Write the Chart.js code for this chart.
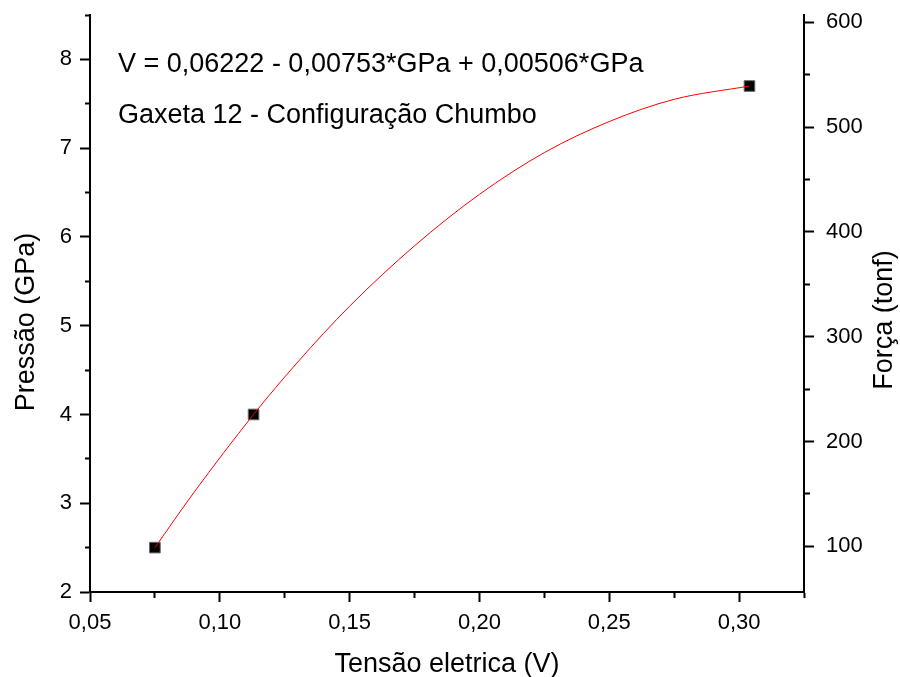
<!DOCTYPE html>
<html>
<head>
<meta charset="utf-8">
<script src="https://cdn.jsdelivr.net/npm/chart.js@4/dist/chart.umd.min.js"></script>
<style>
  html, body { margin: 0; padding: 0; background: #fff; }
  #chart { display: block; }
</style>
</head>
<body>
<canvas id="chart" width="900" height="677"></canvas>
<script>
// measured points
const tensao = [0.075, 0.113, 0.304];
const pressao = [2.5, 4.0, 7.7];

// polynomial fit curve
const fitTensao = [0.075, 0.09, 0.113, 0.13, 0.15, 0.175, 0.2, 0.225, 0.25, 0.275, 0.304];
const fitPressao = [2.5, 3.12, 4.0, 4.59, 5.22, 5.9, 6.48, 6.95, 7.3, 7.55, 7.7];

// right axis ticks (force), majors every 100
const forcaTicks = [100, 150, 200, 250, 300, 350, 400, 450, 500, 550, 600];

const textLines = [
  'V = 0,06222 - 0,00753*GPa + 0,00506*GPa',
  'Gaxeta 12 - Configuração Chumbo'
];
const xTitle = 'Tensão eletrica (V)';
const yTitle = 'Pressão (GPa)';
const y2Title = 'Força (tonf)';

const FONT = '"Liberation Sans", Arial, sans-serif';
Chart.defaults.font.family = FONT;
Chart.defaults.color = '#000';

function isMultiple(v, step) {
  const r = v / step;
  return Math.abs(r - Math.round(r)) < 1e-6;
}

// minor ticks are drawn shorter using a dash pattern on the tick line
function minorDash(step, fromOuter) {
  return ctx => {
    if (!ctx.tick || isMultiple(ctx.tick.value, step)) return [];
    return fromOuter ? [5, 5] : [5, 10];
  };
}
function minorOffset(step) {
  return ctx => (!ctx.tick || isMultiple(ctx.tick.value, step)) ? 0 : 5;
}

// keep the plot box fixed: no extra room for edge labels
function fixVertical(width) {
  return s => { s.width = width; s.paddingTop = 0; s.paddingBottom = 0; };
}

const textPlugin = {
  id: 'texts',
  afterDraw(chart) {
    const ctx = chart.ctx;
    ctx.save();
    ctx.fillStyle = '#000';
    ctx.font = '27px ' + FONT;
    ctx.textBaseline = 'alphabetic';

    ctx.textAlign = 'left';
    ctx.fillText(textLines[0], 118, 72);
    ctx.fillText(textLines[1], 118, 123);

    ctx.textAlign = 'center';
    ctx.fillText(xTitle, 447, 672);

    ctx.save();
    ctx.translate(34, 322);
    ctx.rotate(-Math.PI / 2);
    ctx.fillText(yTitle, 0, 0);
    ctx.restore();

    ctx.save();
    ctx.translate(892, 320);
    ctx.rotate(-Math.PI / 2);
    ctx.fillText(y2Title, 0, 0);
    ctx.restore();

    ctx.restore();
  }
};

new Chart(document.getElementById('chart'), {
  type: 'scatter',
  data: {
    datasets: [{
      label: 'Fit',
      data: fitTensao.map((x, i) => ({x: x, y: fitPressao[i]})),
      showLine: true,
      borderColor: '#ff0000',
      borderWidth: 1,
      pointRadius: 0,
      cubicInterpolationMode: 'monotone',
      order: 0
    }, {
      label: 'Pressão',
      data: tensao.map((x, i) => ({x: x, y: pressao[i]})),
      pointStyle: 'rect',
      pointRadius: 7.5,
      backgroundColor: '#000',
      borderColor: '#666',
      borderWidth: 1,
      order: 1
    }]
  },
  options: {
    responsive: false,
    animation: false,
    layout: { padding: { top: 15, left: 0, right: 0, bottom: 0 } },
    plugins: { legend: { display: false }, tooltip: { enabled: false } },
    scales: {
      x: {
        type: 'linear',
        position: 'bottom',
        min: 0.05,
        max: 0.325,
        afterFit: s => { s.height = 85; s.paddingLeft = 0; s.paddingRight = 0; },
        border: { color: '#000', width: 2 },
        grid: {
          drawOnChartArea: false,
          tickLength: 10,
          tickWidth: 2,
          tickColor: '#000',
          tickBorderDash: minorDash(0.05, false)
        },
        ticks: {
          stepSize: 0.025,
          padding: 8,
          font: { size: 22 },
          maxRotation: 0,
          autoSkip: false,
          callback: v => isMultiple(v, 0.05) ? v.toFixed(2).replace('.', ',') : ''
        }
      },
      y: {
        type: 'linear',
        position: 'left',
        min: 2,
        max: 8.5,
        afterFit: fixVertical(90),
        border: { color: '#000', width: 2 },
        grid: {
          drawOnChartArea: false,
          tickLength: 10,
          tickWidth: 2,
          tickColor: '#000',
          tickBorderDash: minorDash(1, true),
          tickBorderDashOffset: minorOffset(1)
        },
        ticks: {
          stepSize: 0.5,
          padding: 8,
          font: { size: 22 },
          autoSkip: false,
          callback: v => isMultiple(v, 1) ? String(v) : ''
        }
      },
      y2: {
        type: 'linear',
        position: 'right',
        min: 56.5,
        max: 607,
        afterBuildTicks: s => { s.ticks = forcaTicks.map(v => ({value: v})); },
        afterFit: fixVertical(96),
        border: { color: '#000', width: 2 },
        grid: {
          drawOnChartArea: false,
          tickLength: 10,
          tickWidth: 2,
          tickColor: '#000',
          tickBorderDash: minorDash(100, false)
        },
        ticks: {
          padding: 12,
          font: { size: 22 },
          autoSkip: false,
          callback: v => isMultiple(v, 100) ? String(v) : ''
        }
      }
    }
  },
  plugins: [textPlugin]
});
</script>
</body>
</html>
